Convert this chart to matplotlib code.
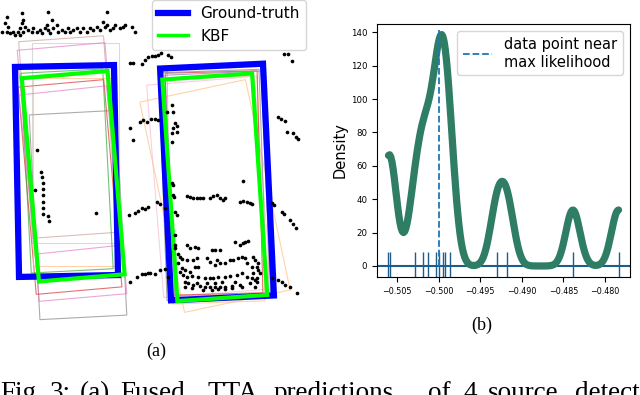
import matplotlib
matplotlib.use("Agg")
import matplotlib.pyplot as plt
from matplotlib.patches import Rectangle
from matplotlib.lines import Line2D
import seaborn as sns
import numpy as np

# ---------------- Data: panel (a) BEV lidar points (pixel-like units) ----------------
top_row_x = [7, 5, 8, 7, 10, 13, 15, 18, 20, 22, 23, 22, 25, 23, 20, 28, 32, 33, 37, 40, 42, 45, 47, 48, 50,
             52, 53, 57, 58, 62, 65, 68, 70, 73, 77, 80, 83, 87, 90, 93, 97, 100, 103, 105, 107, 110, 113,
             115, 120, 123, 125, 132, 135, 48, 107, 2]
top_row_y = [17, 23, 27, 32, 33, 32, 35, 32, 28, 23, 20, 13, 27, 32, 35, 30, 32, 28, 32, 30, 33, 28, 25, 30, 33,
             20, 28, 25, 32, 30, 32, 28, 32, 30, 28, 32, 28, 32, 28, 30, 27, 30, 22, 27, 25, 30, 28,
             25, 28, 27, 25, 27, 32, 12, 12, 32]

mid_x = [130, 133, 142, 145, 148, 152, 155, 158, 161, 168, 171, 284, 288, 292,
         140, 143, 147, 151, 155, 158, 130, 133,
         172, 173, 167, 175, 177, 173, 172, 177, 172,
         278, 281, 285, 287, 293, 296, 298]
mid_y = [63, 63, 64, 60, 57, 56, 56, 55, 53, 55, 57, 54, 54, 61,
         122, 120, 122, 119, 119, 120, 128, 140,
         105, 112, 112, 123, 126, 128, 133, 132, 142,
         117, 119, 121, 132, 133, 137, 139]

left_car_x = [37, 41, 42, 43, 35, 43, 43, 43, 43, 43, 48, 49, 96,
              129, 135, 138, 142, 145, 148, 130, 137, 142, 145, 148]
left_car_y = [150, 172, 177, 183, 190, 189, 195, 202, 208, 214, 216, 221, 213,
              215, 213, 211, 208, 209, 207, 282, 277, 274, 274, 273]

right_car_x = [243, 187, 190, 193, 197, 200, 203, 210, 213, 217, 220, 223, 225,
               240, 243, 247, 250, 252, 272, 274, 282, 284, 290, 293, 296,
               157, 160, 165, 172, 173, 173, 174, 175, 177, 175, 175, 175,
               150, 155, 160, 165, 168,
               187, 190, 195, 198, 178, 180, 182, 187, 193, 197, 207, 210, 212, 215, 220, 217, 220, 215,
               225, 230, 233, 238, 242, 245, 235, 240, 243, 245, 248, 253, 255, 247, 252, 257, 258,
               182, 185, 190, 195, 198, 183, 187, 192, 198, 205, 210, 213, 218, 225, 230, 237, 242,
               247, 252, 255, 185, 188, 193, 200, 205, 210, 215, 220, 225, 232, 240, 250, 257,
               185, 192, 203, 212, 218, 225, 232, 242, 253, 257, 178, 180, 258, 260, 255,
               197, 207, 215, 222, 235,
               272, 278, 282, 285, 290, 297]
right_car_y = [181, 196, 197, 198, 198, 198, 198, 198, 196, 195, 198, 200, 198,
               202, 201, 202, 203, 204, 203, 205, 212, 214, 220, 224, 228,
               202, 204, 208, 183, 185, 195, 197, 212, 215, 235, 245, 248,
               273, 274, 270, 269, 277,
               245, 248, 247, 248, 254, 257, 259, 260, 260, 258, 258, 262, 250, 250, 250, 260, 263, 265,
               263, 260, 260, 258, 257, 258, 242, 245, 243, 242, 241, 257, 260, 263, 267, 267, 270,
               268, 270, 272, 267, 267, 275, 277, 276, 277, 278, 278, 278, 277, 277, 276, 275, 273,
               277, 278, 280, 282, 283, 285, 286, 287, 287, 287, 287, 287, 286, 285, 283, 282,
               287, 288, 290, 290, 289, 289, 288, 287, 273, 278, 263, 272, 263, 273, 287,
               283, 283, 283, 282, 282,
               278, 280, 282, 285, 287, 293]

# ---------------- Data: panel (a) boxes: center x, center y, width, length, yaw(deg) ----------------
gt_cx = [66.5, 217.0]
gt_cy = [171.0, 182.0]
gt_w = [99, 103]
gt_l = [210, 232]
gt_yaw = [-1.1, -2.7]

kbf_cx = [73.25, 214.75]
kbf_cy = [176.25, 187.25]
kbf_w = [86, 90]
kbf_l = [204, 222]
kbf_yaw = [-4.8, -3.9]

pred_cx = [75, 78, 68, 72, 70, 74, 67, 71,
           215, 215, 209, 218, 214, 218, 213]
pred_cy = [143, 215, 137, 172, 187, 172, 171, 170,
           196, 190, 187, 181, 183, 186, 185]
pred_w = [87, 87, 85, 88, 86, 82, 82, 88,
          108, 92, 108, 98, 92, 96, 100]
pred_l = [200, 205, 197, 252, 208, 188, 200, 160,
          215, 225, 213, 228, 222, 226, 228]
pred_yaw = [0, -3, -4, -5, -5, 0, -3, -6,
            -12, -2, -4.6, -1, -1.5, -2.5, -2]
pred_color = ["#c7c7c7", "#7f7f7f", "#c49c94", "#e377c2", "#d62728", "#ffbb78", "#2ca02c", "#e377c2",
              "#ffbb78", "#ffbb78", "#f7b6d2", "#c49c94", "#d62728", "#9467bd", "#7f7f7f"]

# ---------------- Data: panel (b) samples ----------------
samples = [-0.50601, -0.50581, -0.50288, -0.50190, -0.50132, -0.50028, -0.50000,
           -0.49940, -0.49919, -0.49859, -0.49298, -0.49171, -0.48385, -0.47837]
max_like_x = -0.50000
max_like_top = 141.5
xticks_b = [-0.505, -0.500, -0.495, -0.490, -0.485, -0.480]
yticks_b = [0, 20, 40, 60, 80, 100, 120, 140]

# ---------------- Figure ----------------
fig = plt.figure(figsize=(6.4, 3.95), dpi=100)

# Panel (a)
axa = fig.add_axes([0, 0, 310 / 640, 1])
axa.set_xlim(0, 310)
axa.set_ylim(395, 0)
axa.axis("off")


def add_box(ax, cx, cy, w, l, yaw, color, lw, alpha=1.0, z=2):
    r = Rectangle((cx - w / 2, cy - l / 2), w, l, angle=yaw, rotation_point="center",
                  fill=False, edgecolor=color, lw=lw, alpha=alpha, zorder=z)
    ax.add_patch(r)


for i in range(len(pred_cx)):
    add_box(axa, pred_cx[i], pred_cy[i], pred_w[i], pred_l[i], pred_yaw[i], pred_color[i], 0.8, 0.65, 2)
for i in range(len(gt_cx)):
    add_box(axa, gt_cx[i], gt_cy[i], gt_w[i], gt_l[i], gt_yaw[i], "#0000ff", 4.5, 1.0, 3)
for i in range(len(kbf_cx)):
    add_box(axa, kbf_cx[i], kbf_cy[i], kbf_w[i], kbf_l[i], kbf_yaw[i], "#00ff00", 3.0, 1.0, 4)

px = top_row_x + mid_x + left_car_x + right_car_x
py = top_row_y + mid_y + left_car_y + right_car_y
axa.scatter(px, py, s=7, c="black", linewidths=0, zorder=5)

handles = [Line2D([], [], color="#0000ff", lw=4.5), Line2D([], [], color="#00ff00", lw=2.5)]
fig.legend(handles, ["Ground-truth", "KBF"], loc="upper right", bbox_to_anchor=(306 / 640, 1.0),
           borderaxespad=0, fontsize=11)

# Panel (b)
axb = fig.add_axes([377 / 640, 118 / 395, 253 / 640, 253 / 395])
sns.kdeplot(x=samples, bw_adjust=0.18, cut=0, color="#2e7d64", lw=5.2, ax=axb, zorder=3,
            solid_capstyle="round")
sns.rugplot(x=samples, height=0.1, color="#1c5d8c", lw=1.4, ax=axb, zorder=2)
axb.axhline(0, color="#1c5d8c", lw=1.5, zorder=2)
axb.plot([max_like_x, max_like_x], [0, max_like_top], ls="--", color="#1f77b4", lw=1.3,
         label="data point near\nmax likelihood", zorder=4)
axb.set_xlim(-0.50739, -0.47699)
axb.set_ylim(-6.6, 145)
axb.set_xticks(xticks_b)
axb.set_xticklabels([f"{t:.3f}".replace("-", "\u2212") for t in xticks_b], fontsize=5.8)
axb.set_yticks(yticks_b)
axb.set_yticklabels([str(t) for t in yticks_b], fontsize=6.2)
axb.set_ylabel("Density", fontsize=10.5, labelpad=2)
axb.legend(loc="upper right", fontsize=10.5)

# Sub-captions and figure caption
serif = ["Liberation Serif", "DejaVu Serif"]
fig.text(156.5 / 640, 1 - 351 / 395, "(a)", ha="center", va="center", fontsize=13, family=serif)
fig.text(482 / 640, 1 - 325 / 395, "(b)", ha="center", va="center", fontsize=13, family=serif)

cap_words = ["Fig.", "3:", "(a)", "Fused", "TTA", "predictions", "of", "4", "source", "detectors"]
cap_left = [0, 50, 80, 120, 207, 274, 428, 463, 488, 575]
for w, xl in zip(cap_words, cap_left):
    fig.text(xl / 640, 1 - 400 / 395, w, ha="left", va="baseline", fontsize=19.5, family=serif)

fig.savefig("out.png", dpi=100)
